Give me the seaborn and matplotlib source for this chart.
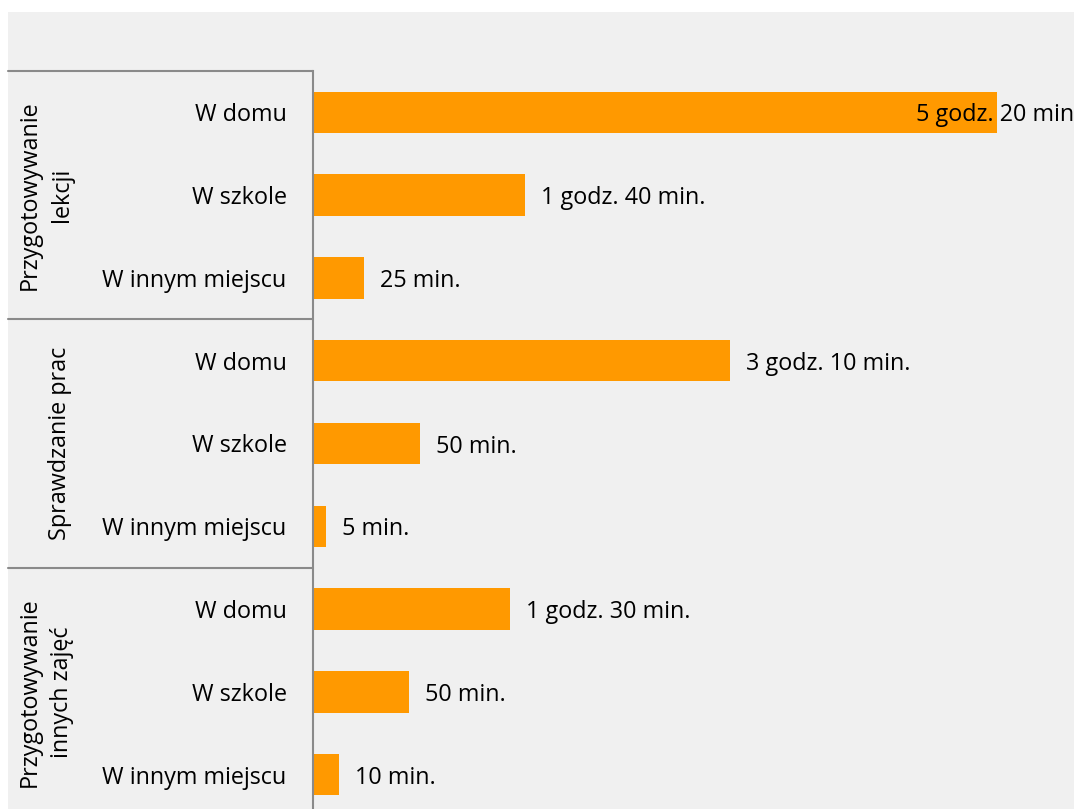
import matplotlib
matplotlib.use("Agg")
import matplotlib.pyplot as plt
import matplotlib.transforms as mtransforms
from matplotlib.patches import Rectangle
import seaborn as sns
import pandas as pd

# ---- data ----
groups = ["Przygotowywanie\nlekcji", "Sprawdzanie prac", "Przygotowywanie\ninnych zajęć"]
places = ["W domu", "W szkole", "W innym miejscu"]
minutes_lekcje = [320, 99, 24]
minutes_prace = [195, 50, 6]
minutes_zajecia = [92, 45, 12]
labels_lekcje = ["5 godz. 20 min.", "1 godz. 40 min.", "25 min."]
labels_prace = ["3 godz. 10 min.", "50 min.", "5 min."]
labels_zajecia = ["1 godz. 30 min.", "50 min.", "10 min."]

values = minutes_lekcje + minutes_prace + minutes_zajecia
val_labels = labels_lekcje + labels_prace + labels_zajecia
keys = [f"{g}|{p}" for g in groups for p in places]
tick_labels = places * len(groups)
df = pd.DataFrame({"key": keys, "minutes": values})

BG = "#f0f0f0"
ORANGE = "#ff9900"
LINE = "#8a8a8a"
FONT = ["Open Sans", "DejaVu Sans"]
FS = 16.8

sns.set_theme(style="white")
plt.rcParams["font.family"] = FONT

W, H = 1074, 809
fig = plt.figure(figsize=(W / 100, H / 100), dpi=100)
fig.patch.set_facecolor("white")
# grey chart area (white margin at top and left)
fig.patches.append(Rectangle((8 / W, 0), 1, (H - 12) / H, transform=fig.transFigure,
                             facecolor=BG, edgecolor="none", zorder=-10))

ax_left, ax_top, ax_bottom_px = 313, 71, 816
ax = fig.add_axes([ax_left / W, (H - ax_bottom_px) / H, (W - ax_left) / W,
                   (ax_bottom_px - ax_top) / H])
ax.set_facecolor(BG)

sns.barplot(data=df, x="minutes", y="key", orient="h", color=ORANGE,
            width=0.5, saturation=1, linewidth=0, ax=ax)

ax.set_xlim(0, (W - ax_left) / 2.1375)
ax.set_ylim(len(keys) - 0.5, -0.5)
ax.set_xlabel("")
ax.set_ylabel("")
ax.set_xticks([])
ax.set_yticks(range(len(keys)))
ax.set_yticklabels(tick_labels, fontsize=FS, color="black")
ax.tick_params(axis="y", length=0, pad=19)
for s in ["top", "right", "bottom"]:
    ax.spines[s].set_visible(False)
ax.spines["left"].set_color(LINE)
ax.spines["left"].set_linewidth(1.5)

# value labels
for i, (v, lab) in enumerate(zip(values, val_labels)):
    off = -81 if i == 0 else 16
    ax.annotate(lab, xy=(v, i), xytext=(off * 0.72, -2.2), textcoords="offset points",
                ha="left", va="center", fontsize=FS, color="black",
                annotation_clip=False)

# group separators and group labels
trans = mtransforms.blended_transform_factory(fig.transFigure, ax.transData)
for gi in range(len(groups)):
    y0 = gi * 3 - 0.5
    ax.plot([8 / W, ax_left / W], [y0, y0], transform=trans, color=LINE,
            lw=1.5, clip_on=False)
for gi, g in enumerate(groups):
    xc = 46 if "\n" in g else 60
    ax.text(xc / W, gi * 3 + 1, g, transform=trans, rotation=90,
            ha="center", va="center", fontsize=FS, color="black",
            linespacing=1.45, multialignment="center")

fig.savefig("out.png", dpi=100, facecolor=fig.get_facecolor())
